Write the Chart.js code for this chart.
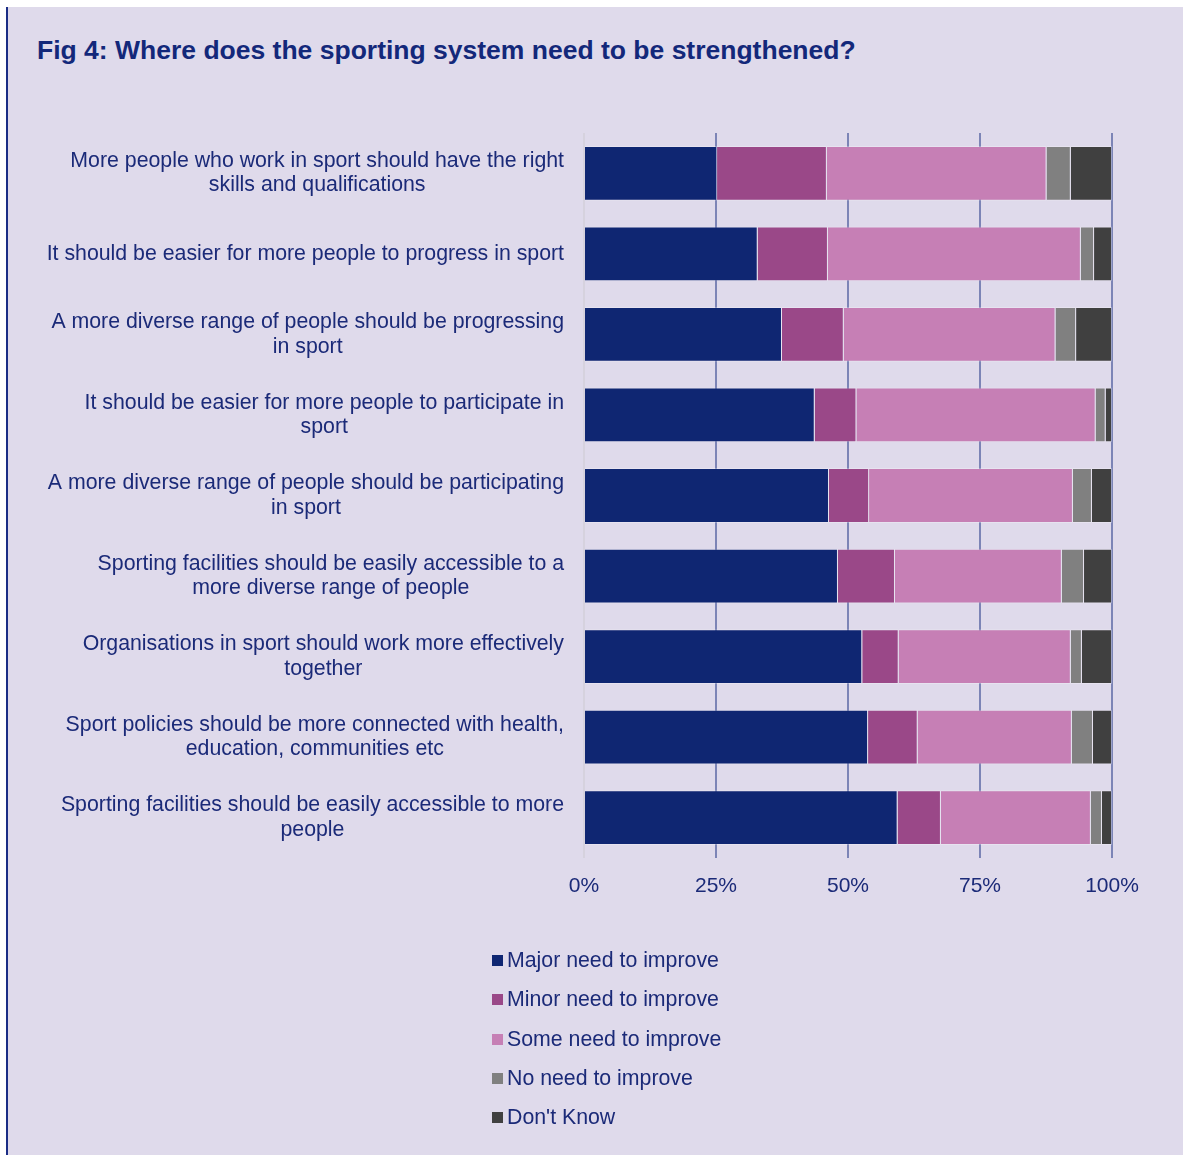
<!DOCTYPE html>
<html>
<head>
<meta charset="utf-8">
<script src="https://cdn.jsdelivr.net/npm/chart.js@4"></script>
<style>
	body { margin: 0; background: #ffffff; font-family: 'Liberation Sans', Arial, sans-serif; }
	#frame {
		position: absolute; left: 6px; top: 7px; width: 1177px; height: 1148px;
		background: #dfdaeb; border-left: 2px solid #1a2d85; box-sizing: border-box;
	}
	#title {
		position: absolute; left: 37px; top: 35px; line-height: 30px;
		font-size: 26.5px; font-weight: bold; color: #13287a; white-space: nowrap;
	}
	#chart { position: absolute; left: 0; top: 0; }
	#legend { position: absolute; left: 492px; top: 941px; }
	.legend-item { display: flex; align-items: center; height: 39.3px; font-size: 21.3px; color: #1b2a78; }
	.legend-box { width: 11px; height: 11px; margin-right: 4px; }
</style>
</head>
<body>
<div id="frame"></div>
<div id="title">Fig 4: Where does the sporting system need to be strengthened?</div>
<canvas id="chart" width="1185" height="1155"></canvas>
<div id="legend"></div>
<script>
const categories = [
	['More people who work in sport should have the right', 'skills and qualifications'],
	['It should be easier for more people to progress in sport'],
	['A more diverse range of people should be progressing', 'in sport'],
	['It should be easier for more people to participate in', 'sport'],
	['A more diverse range of people should be participating', 'in sport'],
	['Sporting facilities should be easily accessible to a', 'more diverse range of people'],
	['Organisations in sport should work more effectively', 'together'],
	['Sport policies should be more connected with health,', 'education, communities etc'],
	['Sporting facilities should be easily accessible to more', 'people'],
]

const seriesNames = ['Major need to improve', 'Minor need to improve', 'Some need to improve', 'No need to improve', "Don't Know"]
const seriesColors = ['#0f2672', '#9a4888', '#c67fb5', '#808080', '#404040']

const majorNeed = [25.2, 32.9, 37.5, 43.7, 46.4, 48.1, 52.7, 53.8, 59.4]
const minorNeed = [20.8, 13.3, 11.7, 7.9, 7.6, 10.8, 6.9, 9.4, 8.2]
const someNeed = [41.6, 47.9, 40.1, 45.3, 38.6, 31.6, 32.6, 29.2, 28.4]
const noNeed = [4.6, 2.5, 3.9, 1.9, 3.6, 4.2, 2.1, 4.0, 2.1]
const dontKnow = [7.8, 3.4, 6.8, 1.2, 3.8, 5.3, 5.7, 3.6, 1.9]

const xTicks = [0, 25, 50, 75, 100]

const textColor = '#1b2a78'
const font = "'Liberation Sans', Arial, sans-serif"

// category labels: block right-aligned to the axis, lines centred inside the block
const categoryLabels = {
	id: 'categoryLabels',
	afterDraw(chart) {
		const { ctx, chartArea, scales } = chart
		ctx.save()
		ctx.font = `21.3px ${font}`
		ctx.fillStyle = textColor
		ctx.textAlign = 'center'
		ctx.textBaseline = 'middle'
		categories.forEach((lines, i) => {
			const y = scales.y.getPixelForValue(i)
			const maxW = Math.max(...lines.map((l) => ctx.measureText(l).width))
			const cx = chartArea.left - 20 - maxW / 2
			lines.forEach((line, j) => {
				ctx.fillText(line, cx, y + (j - (lines.length - 1) / 2) * 24.5)
			})
		})
		ctx.restore()
	},
}

const allSeries = [majorNeed, minorNeed, someNeed, noNeed, dontKnow]

new Chart(document.getElementById('chart').getContext('2d'), {
	type: 'bar',
	data: {
		labels: categories.map((c) => c.join(' ')),
		datasets: allSeries.map((values, i) => ({
			label: seriesNames[i],
			data: values,
			backgroundColor: seriesColors[i],
			borderColor: 'rgba(255, 255, 255, 0.25)',
			borderWidth: 1,
			barPercentage: 0.68,
			categoryPercentage: 1,
		})),
	},
	options: {
		indexAxis: 'y',
		responsive: false,
		animation: false,
		devicePixelRatio: 1,
		layout: { padding: { left: 0, top: 133, right: 73, bottom: 247 } },
		plugins: {
			legend: { display: false },
			tooltip: { enabled: false },
		},
		scales: {
			x: {
				stacked: true,
				min: 0,
				max: 100,
				afterBuildTicks: (axis) => {
					axis.ticks = xTicks.map((v) => ({ value: v }))
				},
				afterFit: (axis) => {
					axis.height = 50
				},
				ticks: {
					padding: 16,
					color: textColor,
					font: { family: font, size: 21 },
					callback: (v) => v + '%',
				},
				grid: {
					drawTicks: false,
					lineWidth: 2,
					color: (ctx) => (ctx.tick && ctx.tick.value === 0 ? '#d6d2de' : '#7c84b6'),
				},
				border: { display: false },
			},
			y: {
				stacked: true,
				afterFit: (axis) => {
					axis.width = 584
				},
				ticks: { display: false },
				grid: { display: false },
				border: { display: false },
			},
		},
	},
	plugins: [categoryLabels],
})

const legend = document.getElementById('legend')
seriesNames.forEach((name, i) => {
	const item = document.createElement('div')
	item.className = 'legend-item'
	const box = document.createElement('span')
	box.className = 'legend-box'
	box.style.background = seriesColors[i]
	const label = document.createElement('span')
	label.textContent = name
	item.append(box, label)
	legend.append(item)
})
</script>
</body>
</html>
